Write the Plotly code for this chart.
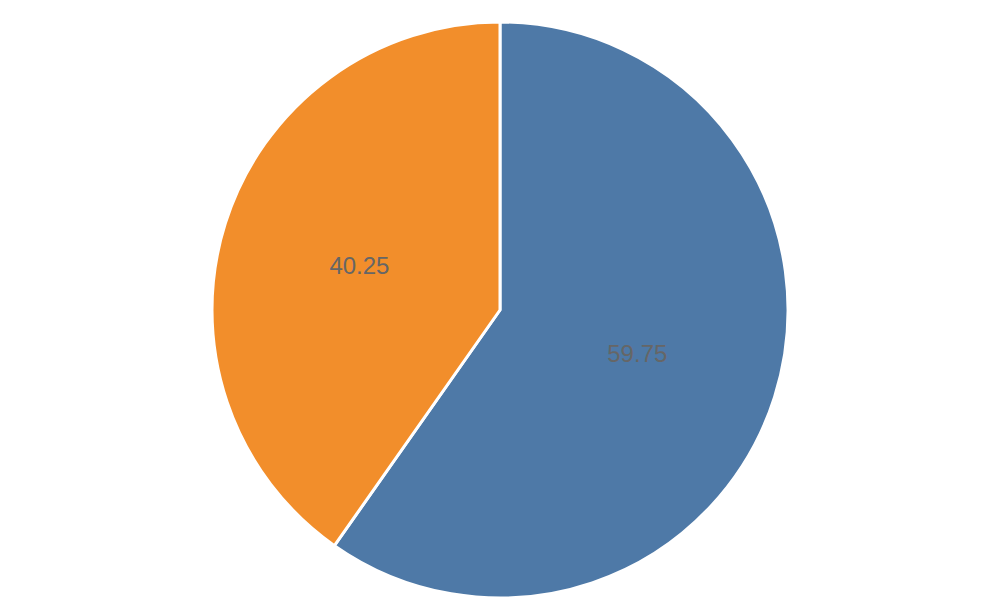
import plotly.graph_objects as go

labels = ["A", "B"]
values = [59.75, 40.25]
colors = ["#4e79a7", "#f28e2b"]

fig = go.Figure(go.Pie(
    labels=labels,
    values=values,
    sort=False,
    direction="clockwise",
    rotation=0,
    marker=dict(colors=colors, line=dict(color="white", width=3)),
    textinfo="value",
    textposition="inside",
    insidetextorientation="horizontal",
    textfont=dict(family="Liberation Sans, Arial, sans-serif", size=24, color="#666666"),
    hoverinfo="label+value",
))
fig.update_layout(
    width=1000, height=600,
    margin=dict(l=0, r=16, t=14, b=10),
    showlegend=False,
    paper_bgcolor="white",
    plot_bgcolor="white",
)
fig.write_html("out.html")
